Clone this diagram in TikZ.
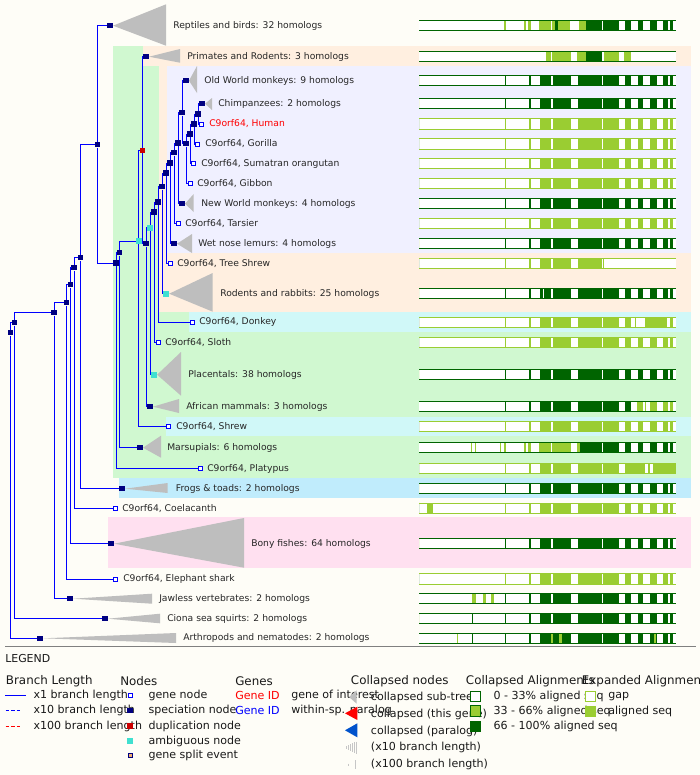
\documentclass[tikz,border=0pt]{standalone}
\usepackage{fontspec}
\setmainfont{DejaVu Sans}
\usepackage{tikz}
\definecolor{paper}{RGB}{254,253,247}
\definecolor{bandgreen}{RGB}{208,248,208}
\definecolor{bandpeach}{RGB}{255,239,224}
\definecolor{bandlav}{RGB}{240,240,255}
\definecolor{bandcyan}{RGB}{208,248,248}
\definecolor{bandblue}{RGB}{192,236,252}
\definecolor{bandpink}{RGB}{255,224,240}
\definecolor{treenavy}{RGB}{0,0,128}
\definecolor{treeblue}{RGB}{0,0,255}
\definecolor{dupred}{RGB}{204,0,0}
\definecolor{ambcyan}{RGB}{64,224,208}
\definecolor{splitorange}{RGB}{240,176,112}
\definecolor{collgrey}{RGB}{190,190,190}
\definecolor{alndark}{RGB}{0,100,0}
\definecolor{alnlight}{RGB}{154,205,50}
\tikzstyle{speciation}=[shape = rectangle, minimum size = 4.1pt, inner sep = 0pt, fill = treenavy]
\tikzstyle{duplication}=[shape = rectangle, minimum size = 3.6pt, inner sep = 0pt, fill = dupred]
\tikzstyle{ambiguous}=[shape = rectangle, minimum size = 4.3pt, inner sep = 0pt, fill = ambcyan]
\tikzstyle{genenode}=[shape = rectangle, minimum size = 3pt, inner sep = 0pt, fill = white, draw = treeblue, line width = 0.75pt]
\tikzstyle{branch}=[draw = treeblue, line width = 0.75pt]
\tikzstyle{collapsed}=[fill = collgrey]
\tikzstyle{treelabel}=[anchor = west, inner sep = 0pt, font = \fontsize{6.9}{8}\selectfont, text = black!85]
\newcommand{\alnrow}[4]{%
  \edef\dksegs{#3}\edef\ltsegs{#4}%
  \fill[white] (419,#1-5.5) rectangle (675.7,#1+5.5);
  \foreach \a/\b in \dksegs {\fill[alndark] (\a,#1-5.5) rectangle (\b,#1+5.5);}
  \foreach \a/\b in \ltsegs {\fill[alnlight] (\a,#1-5.5) rectangle (\b,#1+5.5);}
  \draw[#2, line width = 0.8pt] (419,#1-5.2) -- (675.7,#1-5.2) (419,#1+5.2) -- (675.7,#1+5.2);
}
\def\fullpat{505/506,529/530.7,540/551,552.7/571,578/602,603/619,625/631,638.3/643,650/657,663/667.7,670.3/673}
\def\headpat{505/506,529/530.7,540/551,552.7/571,578/602,603/619}
\def\tailpat{625/631,638.3/643,650/657,663/667.7,670.3/673}
\def\nopat{419/419}

\begin{document}
\begin{tikzpicture}[x = 0.75pt, y = -0.75pt]
\tikzstyle{keytext}=[anchor = west, inner sep = 0pt, font = \fontsize{8.3}{10}\selectfont, text = black!90]
\tikzstyle{keyhead}=[anchor = west, inner sep = 0pt, font = \fontsize{8.9}{10}\selectfont, text = black!90]
\tikzstyle{keybox}=[shape = rectangle, minimum size = 7.6pt, inner sep = 0pt, line width = 0.75pt]
\useasboundingbox (0,0) rectangle (700,775);
\clip (0,0) rectangle (700,775);
\fill[paper] (0,0) rectangle (700,775);
%\draw[help lines] (0,0) grid[step=50] (700,775);
\fill[bandgreen] (113,46) rectangle (691,477.7);
\fill[bandpeach] (143,46) rectangle (691,65.7);
\fill[bandpeach] (159,65.7) rectangle (691,311.7);
\fill[bandlav] (166.7,65.7) rectangle (691,252.7);
\fill[bandcyan] (189,311.7) rectangle (691,331.7);
\fill[bandcyan] (166,416.7) rectangle (691,436.3);
\fill[bandblue] (119,477.7) rectangle (691,497.7);
\fill[bandpink] (107.7,517.3) rectangle (691,568);
% alignments
\alnrow{25.7}{alndark}{555/557.7,586/602,603.3/619,\tailpat}{504/506,524.3/526,528/530.7,539/551,552/555,557.7/570.3,578.7/586}
\alnrow{56.7}{alndark}{586/602}{546/551,552/571,577/586,604/619,624/631}
\alnrow{80.7}{alndark}{\fullpat}{\nopat}
\alnrow{103.7}{alndark}{\fullpat}{\nopat}
\alnrow{124}{alnlight}{\nopat}{\fullpat}
\alnrow{144}{alnlight}{\nopat}{\fullpat}
\alnrow{163.7}{alnlight}{\nopat}{\fullpat}
\alnrow{183.7}{alnlight}{\nopat}{\fullpat}
\alnrow{203.7}{alndark}{\fullpat}{\nopat}
\alnrow{223.7}{alnlight}{\nopat}{\fullpat}
\alnrow{243.7}{alndark}{\fullpat}{\nopat}
\alnrow{263.7}{alnlight}{\nopat}{505/506,529/530.7,540/551,552.7/571,578/602,602.7/603.7}
\alnrow{293.7}{alndark}{505/506,529/530.7,540/542.7,544.3/551,552.7/571,578/602,603/619,\tailpat}{\nopat}
\alnrow{322.3}{alnlight}{\nopat}{\headpat,625/631,634.7/635.7,645/666.7,670/672.7}
\alnrow{342.3}{alnlight}{\nopat}{\fullpat}
\alnrow{374.7}{alndark}{\fullpat}{\nopat}
\alnrow{406.7}{alndark}{\headpat,625/631}{637/643,644.7/645.7,650/657,663/667.7,670.3/673}
\alnrow{426.7}{alnlight}{\nopat}{\fullpat}
\alnrow{447.7}{alndark}{580/602,603/619,\tailpat}{471/472,475/476,500/501,503.7/505.7,524.3/525.7,528/530.7,539/551,552.3/571,577/580}
\alnrow{468.7}{alnlight}{\nopat}{\headpat,625/645,648/650,653.3/675.7}
\alnrow{488.7}{alndark}{\fullpat}{\nopat}
\alnrow{508.3}{alnlight}{\nopat}{426.7/432.7,\fullpat}
\alnrow{543.7}{alndark}{\fullpat,654.3/655.7}{\nopat}
\alnrow{579}{alnlight}{\nopat}{\fullpat,654.3/655.7}
\alnrow{598.7}{alndark}{\fullpat}{472/475.7,483/485.7,491/493.7}
\alnrow{618.7}{alndark}{472/473.3,\fullpat}{\nopat}
\alnrow{638.3}{alndark}{472/473,\fullpat}{457.3/458.3,551/553,559.3/562,654.3/656}
% internal nodes
\node[speciation] (n1) at (10.7,332.7) {};
\node[speciation] (n2) at (14.7,322.7) {};
\node[speciation] (n3) at (54,312.7) {};
\node[speciation] (n4) at (66.7,302.7) {};
\node[speciation] (n5) at (70.7,284.7) {};
\node[speciation] (n6) at (74,267.7) {};
\node[speciation] (n7) at (80.7,257.5) {};
\node[speciation] (n8) at (97.7,144.7) {};
\node[speciation] (n9) at (116,263) {};
\node[speciation] (n10) at (119.7,252.7) {};
\node[ambiguous] (n11) at (138.7,241.3) {};
\node[duplication] (n12) at (142.3,150.7) {};
\node[speciation] (n13) at (146,243.7) {};
\node[ambiguous] (n14) at (150,227.7) {};
\node[speciation] (n15) at (154,212) {};
\node[speciation] (n16) at (158,202) {};
\node[speciation] (n17) at (162,186.7) {};
\node[speciation] (n18) at (166,173) {};
\node[speciation] (n19) at (170,163) {};
\node[speciation] (n20) at (174,152.7) {};
\node[speciation] (n21) at (178,143) {};
\node[speciation] (n22) at (182,112.7) {};
\node[speciation] (n23) at (186,143.7) {};
\node[speciation] (n24) at (190,134) {};
\node[speciation] (n25) at (194,124) {};
\node[speciation] (n26) at (198,114) {};
% collapsed sub-trees
\node[speciation] (rept) at (110,25.7) {};
\node[speciation] (primrod) at (146,56.7) {};
\node[speciation] (owm) at (186,80.7) {};
\node[speciation] (chimp) at (202,103.7) {};
\node[speciation] (nwm) at (182,203.7) {};
\node[speciation] (lemur) at (174,243.7) {};
\node[ambiguous] (rodent) at (166,293.7) {};
\node[ambiguous] (placental) at (154,374.7) {};
\node[speciation] (afr) at (150,406.7) {};
\node[speciation] (marsup) at (140,447.7) {};
\node[speciation] (frogs) at (122,488.7) {};
\node[speciation] (bony) at (111,543.7) {};
\node[speciation] (jawless) at (70,598.7) {};
\node[speciation] (ciona) at (105,618.7) {};
\node[speciation] (arthro) at (40,638.3) {};
\fill[collapsed] (rept.east) -- (166,4.3) -- (166,45.7) -- cycle;
\fill[collapsed] (primrod.east) -- (180,49) -- (180,62.7) -- cycle;
\fill[collapsed] (owm.east) -- (197,66) -- (197,93) -- cycle;
\fill[collapsed] (chimp.east) -- (212,98) -- (212,110) -- cycle;
\fill[collapsed] (nwm.east) -- (193.7,194) -- (193.7,212) -- cycle;
\fill[collapsed] (lemur.east) -- (192,234) -- (192,253) -- cycle;
\fill[collapsed] (rodent.east) -- (212.7,273) -- (212.7,311.7) -- cycle;
\fill[collapsed] (placental.east) -- (181,352) -- (181,395.7) -- cycle;
\fill[collapsed] (afr.east) -- (179,399) -- (179,413) -- cycle;
\fill[collapsed] (marsup.east) -- (161,435.7) -- (161,457.7) -- cycle;
\fill[collapsed] (frogs.east) -- (167.7,483) -- (167.7,493) -- cycle;
\fill[collapsed] (bony.east) -- (244,518) -- (244,567.7) -- cycle;
\fill[collapsed] (jawless.east) -- (152,593.7) -- (152,603.7) -- cycle;
\fill[collapsed] (ciona.east) -- (160,613.7) -- (160,623.3) -- cycle;
\fill[collapsed] (arthro.east) -- (176,633) -- (176,643) -- cycle;
% genes
\node[genenode] (human) at (201.7,124) {};
\node[genenode] (gorilla) at (197.7,144) {};
\node[genenode] (orang) at (193.7,163.7) {};
\node[genenode] (gibbon) at (190,183.7) {};
\node[genenode] (tarsier) at (178,223.7) {};
\node[genenode] (tshrew) at (170,263.7) {};
\node[genenode] (donkey) at (192,322.3) {};
\node[genenode] (sloth) at (158,342.3) {};
\node[genenode] (shrew) at (168.7,426.7) {};
\node[genenode] (platypus) at (200,468.7) {};
\node[genenode] (coel) at (115,508.3) {};
\node[genenode] (eshark) at (115.7,579) {};
% branches
\draw[branch] (n1) |- (n2);
\draw[branch] (n1) |- (arthro);
\draw[branch] (n2) |- (n3);
\draw[branch] (n2) |- (ciona);
\draw[branch] (n3) |- (n4);
\draw[branch] (n3) |- (jawless);
\draw[branch] (n4) |- (n5);
\draw[branch] (n4) |- (eshark);
\draw[branch] (n5) |- (n6);
\draw[branch] (n5) |- (bony);
\draw[branch] (n6) |- (n7);
\draw[branch] (n6) |- (coel);
\draw[branch] (n7) |- (n8);
\draw[branch] (n7) |- (frogs);
\draw[branch] (n8) |- (rept);
\draw[branch] (n8) |- (n9);
\draw[branch] (n9) |- (n10);
\draw[branch] (n9) |- (platypus);
\draw[branch] (n10) |- (n11);
\draw[branch] (n10) |- (marsup);
\draw[branch] (n11) |- (n12);
\draw[branch] (n11) |- (shrew);
\draw[branch] (n12) |- (primrod);
\draw[branch] (n12) |- (n13);
\draw[branch] (n13) |- (n14);
\draw[branch] (n13) |- (afr);
\draw[branch] (n14) |- (n15);
\draw[branch] (n14) |- (placental);
\draw[branch] (n15) |- (n16);
\draw[branch] (n15) |- (sloth);
\draw[branch] (n16) |- (n17);
\draw[branch] (n16) |- (donkey);
\draw[branch] (n17) |- (n18);
\draw[branch] (n17) |- (rodent);
\draw[branch] (n18) |- (n19);
\draw[branch] (n18) |- (tshrew);
\draw[branch] (n19) |- (n20);
\draw[branch] (n19) |- (lemur);
\draw[branch] (n20) |- (n21);
\draw[branch] (n20) |- (tarsier);
\draw[branch] (n21) |- (n22);
\draw[branch] (n21) |- (nwm);
\draw[branch] (n22) |- (owm);
\draw[branch] (n22) |- (n23);
\draw[branch] (n23) |- (n24);
\draw[branch] (n23) |- (gibbon);
\draw[branch] (n24) |- (n25);
\draw[branch] (n24) |- (orang);
\draw[branch] (n25) |- (n26);
\draw[branch] (n25) |- (gorilla);
\draw[branch] (n26) |- (chimp);
\draw[branch] (n26) |- (human);
% labels
\node[treelabel] (l-rept) at (173,25.7) {Reptiles and birds: 32 homologs};
\node[treelabel] (l-primrod) at (187,56.7) {Primates and Rodents: 3 homologs};
\node[treelabel] (l-owm) at (204,80.7) {Old World monkeys: 9 homologs};
\node[treelabel] (l-chimp) at (218,103.7) {Chimpanzees: 2 homologs};
\node[treelabel, text = red] (l-human) at (209,124) {C9orf64, Human};
\node[treelabel] (l-gorilla) at (205,144) {C9orf64, Gorilla};
\node[treelabel] (l-orang) at (201,163.7) {C9orf64, Sumatran orangutan};
\node[treelabel] (l-gibbon) at (197,183.7) {C9orf64, Gibbon};
\node[treelabel] (l-nwm) at (201,203.7) {New World monkeys: 4 homologs};
\node[treelabel] (l-tarsier) at (185,223.7) {C9orf64, Tarsier};
\node[treelabel] (l-lemur) at (198,243.7) {Wet nose lemurs: 4 homologs};
\node[treelabel] (l-tshrew) at (177,263.7) {C9orf64, Tree Shrew};
\node[treelabel] (l-rodent) at (220,293.7) {Rodents and rabbits: 25 homologs};
\node[treelabel] (l-donkey) at (199,322.3) {C9orf64, Donkey};
\node[treelabel] (l-sloth) at (165,342.3) {C9orf64, Sloth};
\node[treelabel] (l-placental) at (188,374.7) {Placentals: 38 homologs};
\node[treelabel] (l-afr) at (186,406.7) {African mammals: 3 homologs};
\node[treelabel] (l-shrew) at (176,426.7) {C9orf64, Shrew};
\node[treelabel] (l-marsup) at (167,447.7) {Marsupials: 6 homologs};
\node[treelabel] (l-platypus) at (207,468.7) {C9orf64, Platypus};
\node[treelabel] (l-frogs) at (175.7,488.7) {Frogs \& toads: 2 homologs};
\node[treelabel] (l-coel) at (122,508.3) {C9orf64, Coelacanth};
\node[treelabel] (l-bony) at (251,543.7) {Bony fishes: 64 homologs};
\node[treelabel] (l-eshark) at (123,579) {C9orf64, Elephant shark};
\node[treelabel] (l-jawless) at (159,598.7) {Jawless vertebrates: 2 homologs};
\node[treelabel] (l-ciona) at (167,618.7) {Ciona sea squirts: 2 homologs};
\node[treelabel] (l-arthro) at (183,638.3) {Arthropods and nematodes: 2 homologs};
% legend
\draw[gray, line width = 0.8pt] (5,646.5) -- (696,646.5);
\node[keytext, font = \fontsize{8.2}{10}\selectfont] (legend) at (5,658.5) {LEGEND};
\node[keyhead] (h-branch) at (5.7,681) {Branch Length};
\node[keyhead] (h-nodes) at (120,681) {Nodes};
\node[keyhead] (h-genes) at (235,681) {Genes};
\node[keyhead] (h-coll) at (350.7,681) {Collapsed nodes};
\node[keyhead] (h-collaln) at (465.7,681) {Collapsed Alignments};
\node[keyhead] (h-expaln) at (581.7,681) {Expanded Alignments};
\node[keytext] (t-x1) at (33.3,695.7) {x1 branch length};
\node[keytext] (t-x10) at (33.3,710.7) {x10 branch length};
\node[keytext] (t-x100) at (33.3,726) {x100 branch length};
\node[keytext] (t-gene) at (148.3,695.7) {gene node};
\node[keytext] (t-spec) at (148.3,710.7) {speciation node};
\node[keytext] (t-dup) at (148.3,726) {duplication node};
\node[keytext] (t-amb) at (148.3,741) {ambiguous node};
\node[keytext] (t-split) at (148.3,755.7) {gene split event};
\node[keytext, text = red] (t-gid1) at (235,695.7) {Gene ID};
\node[keytext, text = treeblue] (t-gid2) at (235,710.7) {Gene ID};
\node[keytext] (t-interest) at (291,695.7) {gene of interest};
\node[keytext] (t-paralog) at (291,710.7) {within-sp. paralog};
\node[keytext] (t-sub) at (370.7,697) {collapsed sub-tree};
\node[keytext] (t-this) at (370.7,714) {collapsed (this gene)};
\node[keytext] (t-para) at (370.7,731) {collapsed (paralog)};
\node[keytext] (t-c10) at (370.7,747.5) {(x10 branch length)};
\node[keytext] (t-c100) at (370.7,764.7) {(x100 branch length)};
\node[keytext] (t-low) at (493.3,696.3) {0 - 33\% aligned seq};
\node[keytext] (t-mid) at (493.3,711) {33 - 66\% aligned seq};
\node[keytext] (t-high) at (493.3,726.3) {66 - 100\% aligned seq};
\node[keytext] (t-gap) at (608,696.3) {gap};
\node[keytext] (t-seq) at (608,711.3) {aligned seq};
\draw[treeblue, line width = 0.75pt] (5,695.7) -- (26,695.7);
\draw[treeblue, line width = 0.75pt, dash pattern = on 2.5pt off 1.6pt] (5.7,710.7) -- (20,710.7);
\draw[red, line width = 0.75pt, dash pattern = on 2.5pt off 1.6pt] (5.7,726) -- (20,726);
\node[genenode] (k-gene) at (130,695.7) {};
\node[speciation] (k-spec) at (130,710.7) {};
\node[duplication, minimum size = 4.1pt] (k-dup) at (130,726) {};
\node[ambiguous, minimum size = 4.1pt] (k-amb) at (130,741) {};
\node[genenode, fill = splitorange, draw = treenavy] (k-split) at (130,755.7) {};
\fill[collgrey] (349,697) -- (356.7,690.3) -- (356.7,703.7) -- cycle;
\fill[red] (345,713.3) -- (357.3,706.7) -- (357.3,720) -- cycle;
\fill[blue!60!cyan!80!black] (345,730.3) -- (357.3,723.3) -- (357.3,737.3) -- cycle;
\foreach \x/\h in {346/1.5,348/2.5,350/3.5,352/4.5,354/5.5,356/6}
  \draw[gray!45, line width = 0.6pt] (\x,747.5-\h) -- (\x,747.5+\h);
\draw[gray!45, line width = 0.6pt] (348,763.5) -- (348,766) (355,760) -- (355,769);
\node[keybox, fill = white, draw = alndark] (k-low) at (475.5,696.5) {};
\node[keybox, fill = alnlight, draw = alndark] (k-mid) at (475.5,711) {};
\node[keybox, fill = alndark, draw = alndark] (k-high) at (475.5,726.2) {};
\node[keybox, fill = white, draw = alnlight] (k-gap) at (590.3,696.5) {};
\node[keybox, fill = alnlight, draw = alnlight] (k-seq) at (590.3,711.2) {};
\end{tikzpicture}
\end{document}
